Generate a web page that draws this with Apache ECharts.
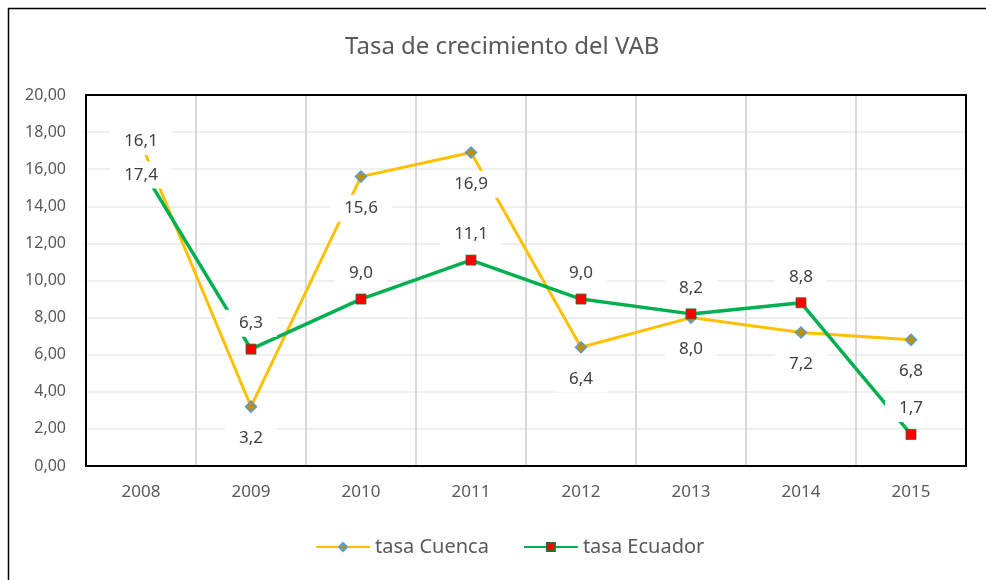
<!DOCTYPE html>
<html>
<head>
<meta charset="utf-8">
<script src="https://cdn.jsdelivr.net/npm/echarts@6/dist/echarts.min.js"></script>
<style>
  html, body { margin: 0; padding: 0; background: #fff; }
  #chart { width: 986px; height: 580px; }
</style>
</head>
<body>
<div id="chart"></div>
<script>
var years = ['2008', '2009', '2010', '2011', '2012', '2013', '2014', '2015'];
var tasaCuenca = [17.4, 3.2, 15.6, 16.9, 6.4, 8.0, 7.2, 6.8];
var tasaEcuador = [16.1, 6.3, 9.0, 11.1, 9.0, 8.2, 8.8, 1.7];

var fontFam = '"Noto Sans", "Open Sans", sans-serif';
var fmtComma = function (v, d) { return v.toFixed(d).replace('.', ','); };

var labelBox = {
    show: true,
    color: '#404040',
    fontSize: 17,
    fontFamily: fontFam,
    backgroundColor: '#ffffff',
    padding: [5, 14]
};

var myChart = echarts.init(document.getElementById('chart'));
var option = {
    animation: false,
    title: {
        text: 'Tasa de crecimiento del VAB',
        left: 340,
        top: 30,
        textStyle: { color: '#595959', fontSize: 24, fontWeight: 'normal', fontFamily: fontFam }
    },
    legend: {
        left: 310,
        bottom: 18,
        itemWidth: 54,
        itemHeight: 10,
        itemGap: 34,
        textStyle: { color: '#595959', fontSize: 20, fontFamily: fontFam },
        data: ['tasa Cuenca', 'tasa Ecuador']
    },
    grid: { left: 86, right: 20, top: 95, bottom: 114 },
    xAxis: {
        type: 'category',
        data: years,
        boundaryGap: true,
        axisLine: { show: false },
        axisTick: { show: false },
        axisLabel: { color: '#595959', fontSize: 17, fontFamily: fontFam, margin: 18 },
        splitLine: { show: true, lineStyle: { color: '#d9d9d9', width: 2 } }
    },
    yAxis: {
        type: 'value',
        min: 0,
        max: 20,
        interval: 2,
        axisLine: { show: false },
        axisTick: { show: false },
        axisLabel: {
            color: '#595959', fontSize: 16, fontFamily: fontFam, margin: 20,
            formatter: function (v) { return fmtComma(v, 2); }
        },
        splitLine: { lineStyle: { color: '#efefef', width: 2 } }
    },
    graphic: [{
        type: 'rect',
        shape: { x: 8.5, y: 8.5, width: 1000, height: 600 },
        style: { fill: 'none', stroke: '#000', lineWidth: 1.5 },
        silent: true
    }, {
        type: 'rect',
        shape: { x: 86, y: 95, width: 880, height: 371 },
        style: { fill: 'none', stroke: '#000', lineWidth: 2 },
        silent: true,
        z: 1
    }],
    series: [{
        name: 'tasa Cuenca',
        type: 'line',
        data: tasaCuenca,
        symbol: 'diamond',
        symbolSize: 11,
        lineStyle: { color: '#FFC000', width: 3 },
        itemStyle: { color: '#BF9000', borderColor: '#5B9BD5', borderWidth: 1.5 },
        label: Object.assign({}, labelBox, {
            position: 'bottom',
            distance: 12,
            formatter: function (p) { return fmtComma(p.value, 1); }
        }),
        z: 3
    }, {
        name: 'tasa Ecuador',
        type: 'line',
        data: tasaEcuador,
        symbol: 'rect',
        symbolSize: 10,
        lineStyle: { color: '#00B050', width: 3.5 },
        itemStyle: { color: '#FF0000', borderColor: '#2E6B2E', borderWidth: 0.8 },
        label: Object.assign({}, labelBox, {
            position: 'top',
            distance: 7,
            formatter: function (p) { return fmtComma(p.value, 1); }
        }),
        z: 3
    }]
};
myChart.setOption(option);
</script>
</body>
</html>
